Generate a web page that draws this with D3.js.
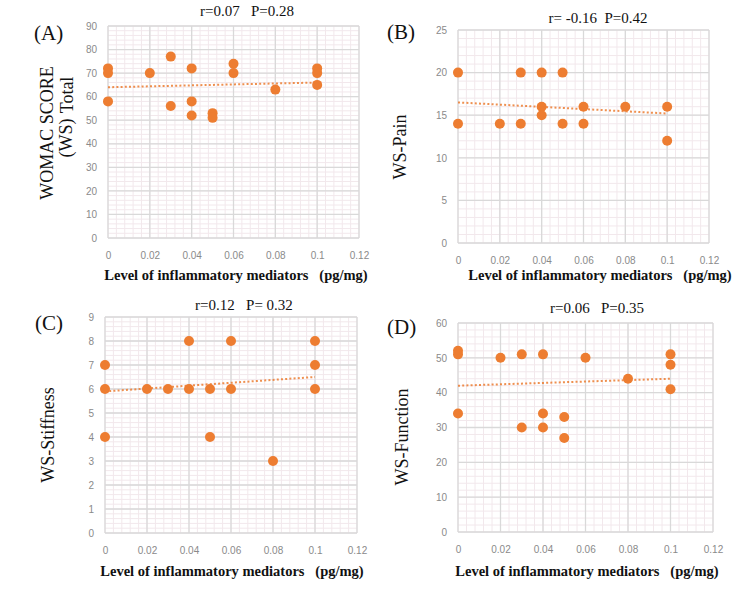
<!DOCTYPE html>
<html lang="en">
<head>
<meta charset="UTF-8">
<title>WOMAC vs inflammatory mediators</title>
<script src="https://d3js.org/d3.v7.min.js"></script>
<style>
  body { margin: 0; background: #fff; }
  .tick text { font-family: "Liberation Sans", Arial, sans-serif; font-size: 10px; fill: #8a8a8a; }
  .serif { font-family: "Liberation Serif", "Times New Roman", serif; fill: #111; }
</style>
</head>
<body>
<svg width="750" height="597"></svg>
<script>
// x values shared by all panels (pg/mg)
var xTicks = [0, 0.02, 0.04, 0.06, 0.08, 0.1, 0.12];

// panel A: WOMAC total
var xA = [0, 0, 0, 0.02, 0.03, 0.03, 0.04, 0.04, 0.04, 0.05, 0.05, 0.06, 0.06, 0.08, 0.1, 0.1, 0.1];
var yA = [72, 70, 58, 70, 77, 56, 72, 58, 52, 53, 51, 74, 70, 63, 72, 70, 65];
var trendA = [64, 66];

// panel B: pain
var xB = [0, 0, 0.02, 0.03, 0.03, 0.04, 0.04, 0.04, 0.05, 0.05, 0.06, 0.06, 0.08, 0.1, 0.1];
var yB = [20, 14, 14, 20, 14, 20, 16, 15, 20, 14, 16, 14, 16, 16, 12];
var trendB = [16.5, 15.2];

// panel C: stiffness
var xC = [0, 0, 0, 0.02, 0.03, 0.04, 0.04, 0.05, 0.05, 0.06, 0.06, 0.08, 0.1, 0.1, 0.1];
var yC = [7, 6, 4, 6, 6, 8, 6, 6, 4, 8, 6, 3, 8, 7, 6];
var trendC = [5.9, 6.5];

// panel D: function
var xD = [0, 0, 0, 0.02, 0.03, 0.03, 0.04, 0.04, 0.04, 0.05, 0.05, 0.06, 0.08, 0.1, 0.1, 0.1];
var yD = [52, 51, 34, 50, 51, 30, 51, 34, 30, 33, 27, 50, 44, 51, 48, 41];
var trendD = [42, 44];

var orange = '#ed7d31';
var svg = d3.select('svg');

function panel(o) {
    var x = d3.scaleLinear().domain([0, 0.12]).range([o.l, o.r]);
    var y = d3.scaleLinear().domain([0, o.yMax]).range([o.b, o.t]);
    var g = svg.append('g');

    // minor grid (5 per major step)
    var xMinor = d3.range(0, 0.12 + 1e-9, 0.004);
    var yMinor = d3.range(0, o.yMax + 1e-9, o.yStep / 5);
    g.selectAll('.mx').data(xMinor).enter().append('line')
        .attr('x1', x).attr('x2', x).attr('y1', o.t).attr('y2', o.b)
        .attr('stroke', '#f2e8ec').attr('stroke-width', 1);
    g.selectAll('.my').data(yMinor).enter().append('line')
        .attr('y1', y).attr('y2', y).attr('x1', o.l).attr('x2', o.r)
        .attr('stroke', '#f2e8ec').attr('stroke-width', 1);

    // major grid
    var yTicks = d3.range(0, o.yMax + 1e-9, o.yStep);
    g.selectAll('.gx').data(xTicks).enter().append('line')
        .attr('x1', x).attr('x2', x).attr('y1', o.t).attr('y2', o.b)
        .attr('stroke', '#d9d9d9').attr('stroke-width', 1.3);
    g.selectAll('.gy').data(yTicks).enter().append('line')
        .attr('y1', y).attr('y2', y).attr('x1', o.l).attr('x2', o.r)
        .attr('stroke', '#d9d9d9').attr('stroke-width', 1.3);

    // axes (labels only)
    var ax = g.append('g').attr('transform', 'translate(0,' + o.b + ')')
        .call(d3.axisBottom(x).tickValues(xTicks).tickSize(0).tickPadding(14)
            .tickFormat(function (d) { return String(+d.toFixed(2)); }));
    var ay = g.append('g').attr('transform', 'translate(' + o.l + ',0)')
        .call(d3.axisLeft(y).tickValues(yTicks).tickSize(0).tickPadding(11));
    ax.select('.domain').remove();
    ay.select('.domain').remove();

    // trend line
    g.append('line')
        .attr('x1', x(0)).attr('x2', x(0.1))
        .attr('y1', y(o.trend[0])).attr('y2', y(o.trend[1]))
        .attr('stroke', orange).attr('stroke-width', 2)
        .attr('stroke-dasharray', '2,2.2').attr('opacity', 0.85);

    // points
    g.selectAll('circle').data(o.xs).enter().append('circle')
        .attr('cx', function (d) { return x(d); })
        .attr('cy', function (d, i) { return y(o.ys[i]); })
        .attr('r', 5).attr('fill', orange);

    // texts
    g.append('text').attr('class', 'serif').attr('x', o.titleX).attr('y', o.titleY)
        .attr('text-anchor', 'middle').style('font-size', '15px').text(o.title);
    g.append('text').attr('class', 'serif').attr('x', o.lblX).attr('y', o.lblY)
        .style('font-size', '21px').text(o.label);
    g.append('text').attr('class', 'serif').attr('x', o.xtX).attr('y', o.xtY)
        .attr('text-anchor', 'middle').style('font-size', '14.5px').style('font-weight', 'bold')
        .text('Level of inflammatory mediators\u00a0\u00a0\u00a0(pg/mg)');
    o.yTitles.forEach(function (t) {
        g.append('text').attr('class', 'serif')
            .attr('transform', 'translate(' + t.x + ',' + t.y + ') rotate(-90)')
            .attr('text-anchor', 'middle').style('font-size', '18px').text(t.text);
    });
}

panel({ l: 108, r: 359, t: 26, b: 238, yMax: 90, yStep: 10, xs: xA, ys: yA, trend: trendA,
    title: 'r=0.07\u00a0\u00a0\u00a0P=0.28', titleX: 247, titleY: 16,
    label: '(A)', lblX: 34, lblY: 40, xtX: 236, xtY: 280,
    yTitles: [{ x: 53, y: 133, text: 'WOMAC SCORE' }, { x: 73, y: 95, text: 'Total' }, { x: 72, y: 138, text: '(WS)' }] });

panel({ l: 458, r: 709, t: 30, b: 243, yMax: 25, yStep: 5, xs: xB, ys: yB, trend: trendB,
    title: 'r= -0.16\u00a0\u00a0P=0.42', titleX: 598, titleY: 23,
    label: '(B)', lblX: 387, lblY: 39, xtX: 600, xtY: 280,
    yTitles: [{ x: 406, y: 147, text: 'WS-Pain' }] });

panel({ l: 105, r: 357, t: 317, b: 533, yMax: 9, yStep: 1, xs: xC, ys: yC, trend: trendC,
    title: 'r=0.12\u00a0\u00a0\u00a0P= 0.32', titleX: 244, titleY: 310,
    label: '(C)', lblX: 35, lblY: 330, xtX: 232, xtY: 576,
    yTitles: [{ x: 54, y: 435, text: 'WS-Stiffness' }] });

panel({ l: 458, r: 713, t: 323, b: 532, yMax: 60, yStep: 10, xs: xD, ys: yD, trend: trendD,
    title: 'r=0.06\u00a0\u00a0\u00a0P=0.35', titleX: 597, titleY: 313,
    label: '(D)', lblX: 387, lblY: 334, xtX: 587, xtY: 576,
    yTitles: [{ x: 408, y: 437, text: 'WS-Function' }] });
</script>
</body>
</html>
